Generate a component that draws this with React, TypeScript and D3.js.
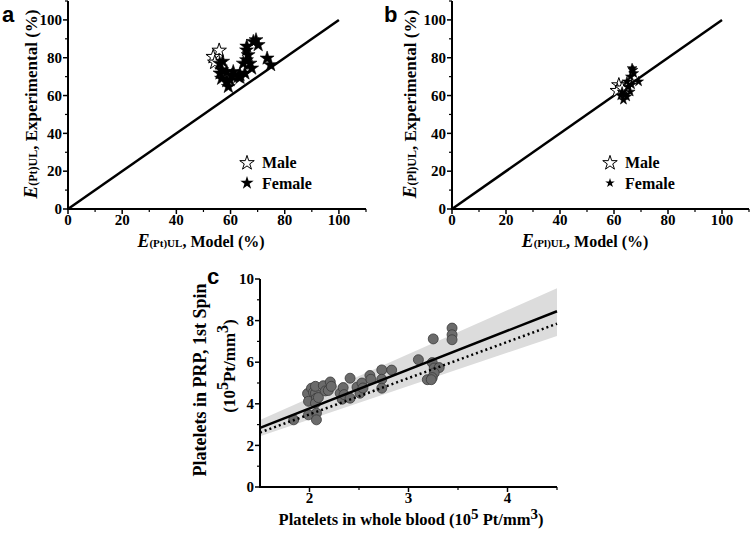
import React from "react";
import * as d3 from "d3";

// Panel a
const aFemale: [number, number][] = [
  [57.1, 78], [56.1, 71.8], [56.7, 69], [58.6, 67.7], [59.2, 64.7], [61, 72.6], [63.5, 71],
  [65.3, 71.8], [63.5, 69.5], [62.8, 70], [59.8, 68.2], [56.7, 73.5], [58.6, 72.6], [64.7, 77],
  [65.9, 84], [66.5, 81.5], [65.9, 78.8], [67.2, 77], [67.8, 74.4], [68.4, 88.5], [69.4, 89.4],
  [70.2, 86.8], [73.5, 79.7], [74.8, 76.2], [66.0, 86.0], [56.0, 77], [60.5, 70.5],
];
const aMale: [number, number][] = [[55.8, 83.8], [53.6, 80.5], [54.2, 77.5]];

// Panel b
const bFemale: [number, number][] = [
  [66.7, 74.4], [67.3, 71.8], [66.1, 70], [69.1, 67.4], [64.8, 67.4], [63, 62], [64.7, 59.4],
  [66, 62], [63.5, 57.7], [65.2, 64.5], [64, 60.5], [66.5, 65.8], [62.5, 60], [67, 73.5],
];
const bMale: [number, number][] = [[61.8, 65.5], [61.2, 62.5], [63, 63.8]];

const identityLine: [number, number][] = [[0, 0], [100, 100]];
const pctTicks = [0, 20, 40, 60, 80, 100];

// Panel c
const cPoints: [number, number][] = [
  [1.84, 3.23], [1.98, 4.49], [1.99, 4.12], [1.99, 3.47], [2.02, 4.75], [2.04, 4.55], [2.06, 4.51],
  [2.07, 4.27], [2.06, 4.03], [2.07, 3.55], [2.07, 3.23], [2.09, 4.3], [2.06, 4.84], [2.14, 4.87],
  [2.16, 4.62], [2.19, 4.64], [2.21, 5.05], [2.22, 4.84], [2.31, 4.51], [2.33, 4.22], [2.34, 4.78],
  [2.35, 4.44], [2.41, 5.23], [2.41, 4.27], [2.48, 4.8], [2.51, 4.51], [2.53, 5.0], [2.54, 4.76],
  [2.61, 5.36], [2.62, 5.18], [2.73, 5.63], [2.73, 5.18], [2.73, 4.75], [2.83, 5.62], [3.10, 6.12],
  [3.19, 5.16], [3.25, 7.12], [3.24, 5.98], [3.26, 5.72], [3.31, 5.74], [3.26, 5.48], [3.24, 5.26],
  [3.23, 5.16], [3.44, 7.64], [3.44, 7.32], [3.44, 7.08],
];
const cFitX = [1.5, 4.5];
const cFitSolid = [2.84, 8.45];
const cFitDotted = [2.62, 7.85];
const cBandLower = [2.44, 7.26];
const cBandUpper = [3.22, 9.56];
const cXTicks = [2, 3, 4];
const cYTicks = [0, 2, 4, 6, 8, 10];

const SERIF = "'Liberation Serif', 'Times New Roman', serif";
const SANS = "'Liberation Sans', Arial, sans-serif";

type Lin = d3.ScaleLinear<number, number>;

function Axes({ x, y, xMajor, yMajor, xMinor, yMinor, xLabY, yLabX, fs }: {
  x: Lin; y: Lin; xMajor: number[]; yMajor: number[]; xMinor: number[]; yMinor: number[];
  xLabY: number; yLabX: number; fs: number;
}) {
  const [x0, x1] = x.range();
  const [y0, y1] = y.range();
  return (
    <g>
      <line x1={x0} x2={x1} y1={y0} y2={y0} stroke="#000" strokeWidth={2} />
      <line x1={x0} x2={x0} y1={y0 + 1} y2={y1} stroke="#000" strokeWidth={2} />
      {xMajor.map((t) => (
        <g key={"xm" + t}>
          <line x1={x(t)} x2={x(t)} y1={y0} y2={y0 + 5} stroke="#000" strokeWidth={1.5} />
          <text x={x(t)} y={xLabY} textAnchor="middle" fontFamily={SERIF} fontWeight="bold" fontSize={fs}>{t}</text>
        </g>
      ))}
      {xMinor.map((t) => (
        <line key={"xn" + t} x1={x(t)} x2={x(t)} y1={y0} y2={y0 + 3} stroke="#000" strokeWidth={1.2} />
      ))}
      {yMajor.map((t) => (
        <g key={"ym" + t}>
          <line x1={x0 - 5} x2={x0} y1={y(t)} y2={y(t)} stroke="#000" strokeWidth={1.5} />
          <text x={yLabX} y={y(t)} dy="0.35em" textAnchor="end" fontFamily={SERIF} fontWeight="bold" fontSize={fs}>{t}</text>
        </g>
      ))}
      {yMinor.map((t) => (
        <line key={"yn" + t} x1={x0 - 3} x2={x0} y1={y(t)} y2={y(t)} stroke="#000" strokeWidth={1.2} />
      ))}
    </g>
  );
}

function StarPanel({ xRange, female, male, sub, letter, letterX, titleCx, yTitleX, legX, femaleSize, legFemaleSize }: {
  xRange: [number, number]; female: [number, number][]; male: [number, number][]; sub: string;
  letter: string; letterX: number; titleCx: number; yTitleX: number; legX: number;
  femaleSize: number; legFemaleSize: number;
}) {
  const x = d3.scaleLinear().domain([0, 110]).range(xRange);
  const y = d3.scaleLinear().domain([0, 110]).range([209, 1]);
  const line = d3.line<[number, number]>().x((d) => x(d[0])).y((d) => y(d[1]));
  const fStar = d3.symbol().type(d3.symbolStar).size(femaleSize)() as string;
  const mStar = d3.symbol().type(d3.symbolStar).size(65)() as string;
  const legF = d3.symbol().type(d3.symbolStar).size(legFemaleSize)() as string;
  const minor = [10, 30, 50, 70, 90, 110];
  return (
    <g>
      <text x={letterX} y={22} fontFamily={SANS} fontWeight="bold" fontSize={22}>{letter}</text>
      <Axes x={x} y={y} xMajor={pctTicks} yMajor={pctTicks} xMinor={minor} yMinor={minor}
        xLabY={225} yLabX={xRange[0] - 6} fs={15} />
      <path d={line(identityLine) as string} stroke="#000" strokeWidth={2.5} fill="none" />
      {male.map((d, i) => (
        <path key={"m" + i} d={mStar} transform={`translate(${x(d[0])},${y(d[1])})`} fill="#fff" stroke="#000" strokeWidth={1} />
      ))}
      {female.map((d, i) => (
        <path key={"f" + i} d={fStar} transform={`translate(${x(d[0])},${y(d[1])})`} fill="#000" stroke="#000" strokeWidth={0.6} />
      ))}
      <path d={mStar} transform={`translate(${legX},${163})`} fill="#fff" stroke="#000" strokeWidth={1} />
      <path d={legF} transform={`translate(${legX},${183})`} fill="#000" />
      <text x={legX + 15} y={168} fontFamily={SERIF} fontWeight="bold" fontSize={16}>Male</text>
      <text x={legX + 15} y={189} fontFamily={SERIF} fontWeight="bold" fontSize={16}>Female</text>
      <text x={titleCx} y={247} textAnchor="middle" fontFamily={SERIF} fontWeight="bold" fontSize={16}>
        <tspan fontStyle="italic" fontSize={18}>E</tspan>
        <tspan fontSize={11}>{sub}</tspan>
        <tspan>, Model (%)</tspan>
      </text>
      <text transform={`translate(${yTitleX},${104}) rotate(-90)`} textAnchor="middle" fontFamily={SERIF} fontWeight="bold" fontSize={17}>
        <tspan fontStyle="italic" fontSize={19}>E</tspan>
        <tspan fontSize={12}>{sub}</tspan>
        <tspan>, Experimental (%)</tspan>
      </text>
    </g>
  );
}

function PanelC() {
  const x = d3.scaleLinear().domain([1.5, 4.5]).range([260, 557]);
  const y = d3.scaleLinear().domain([0, 10]).range([487, 279]);
  const band = d3.area<number>().x((d) => x(d)).y0((_, i) => y(cBandLower[i])).y1((_, i) => y(cBandUpper[i]));
  const fit = (vals: number[]) => d3.line<number>().x((d) => x(d)).y((_, i) => y(vals[i]))(cFitX) as string;
  return (
    <g>
      <text x={207} y={284} fontFamily={SANS} fontWeight="bold" fontSize={22}>c</text>
      <path d={band(cFitX) as string} fill="#dcdcdc" />
      <Axes x={x} y={y} xMajor={cXTicks} yMajor={cYTicks} xMinor={[2.5, 3.5, 4.5]} yMinor={[1, 3, 5, 7, 9]}
        xLabY={503} yLabX={254} fs={15} />
      {cPoints.map((d, i) => (
        <circle key={i} cx={x(d[0])} cy={y(d[1])} r={5} fill="#6b6b6b" stroke="#3a3a3a" strokeWidth={0.8} />
      ))}
      <path d={fit(cFitSolid)} stroke="#000" strokeWidth={2.5} fill="none" />
      <path d={fit(cFitDotted)} stroke="#000" strokeWidth={2.5} strokeDasharray="2,3" fill="none" />
      <text x={411} y={525} textAnchor="middle" fontFamily={SERIF} fontWeight="bold" fontSize={16.5}>
        <tspan>Platelets in whole blood (10</tspan>
        <tspan dy={-6} fontSize={15}>5</tspan>
        <tspan dy={6}> Pt/mm</tspan>
        <tspan dy={-6} fontSize={15}>3</tspan>
        <tspan dy={6}>)</tspan>
      </text>
      <text transform={`translate(${206},${380}) rotate(-90)`} textAnchor="middle" fontFamily={SERIF} fontWeight="bold" fontSize={18}>
        Platelets in PRP, 1st Spin
      </text>
      <text transform={`translate(${235},${366}) rotate(-90)`} textAnchor="middle" fontFamily={SERIF} fontWeight="bold" fontSize={17}>
        <tspan>(10</tspan>
        <tspan dy={-7} fontSize={16}>5</tspan>
        <tspan dy={7}>Pt/mm</tspan>
        <tspan dy={-7} fontSize={16}>3</tspan>
        <tspan dy={7}>)</tspan>
      </text>
    </g>
  );
}

export default function App() {
  return (
    <svg width={750} height={533} style={{ position: "absolute", left: 0, top: 0, background: "#fff" }}>
      <rect width={750} height={533} fill="#fff" />
      <StarPanel xRange={[68, 366]} female={aFemale} male={aMale} sub="(Pt)UL" letter="a" letterX={2}
        titleCx={201} yTitleX={37} legX={247} femaleSize={60} legFemaleSize={55} />
      <StarPanel xRange={[452, 749]} female={bFemale} male={bMale} sub="(Pl)UL" letter="b" letterX={384}
        titleCx={585} yTitleX={416} legX={610} femaleSize={30} legFemaleSize={28} />
      <PanelC />
    </svg>
  );
}
